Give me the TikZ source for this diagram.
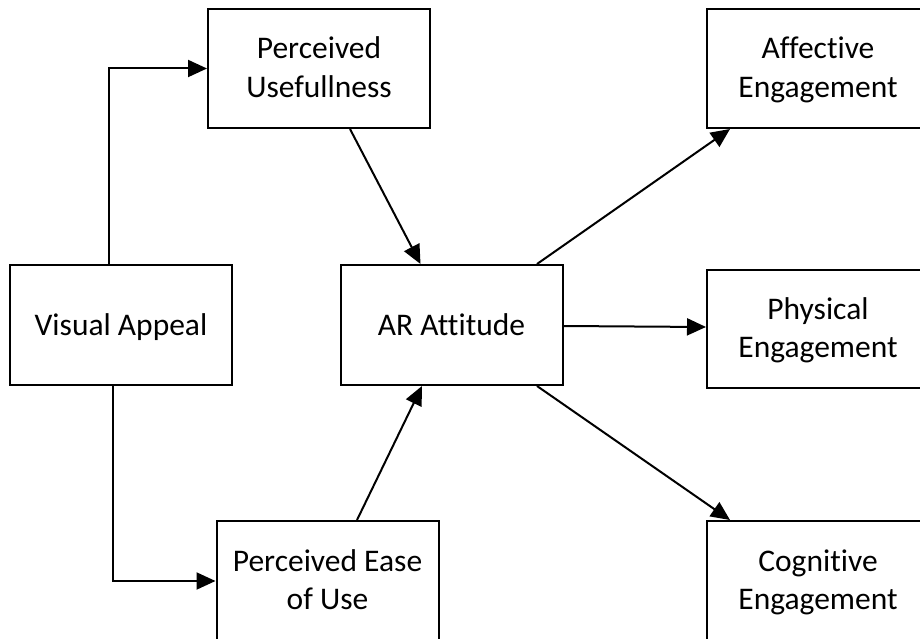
\documentclass[tikz,border=0pt]{standalone}
\usepackage{fontspec}
\setmainfont{Carlito}[Ligatures=NoCommon]
\usetikzlibrary{arrows.meta}
\begin{document}
\begin{tikzpicture}[x=1pt,y=-1pt,
  box/.style={draw, line width=2pt, minimum width=222pt, minimum height=120pt, inner sep=0pt},
  txt/.style={anchor=base, align=center, font=\fontsize{31.5}{38.4}\selectfont, inner sep=0pt},
  conn/.style={line width=2pt, -{Triangle[length=19pt,width=17pt]}}]
\useasboundingbox (0,0) rectangle (920,639);
\clip (0,0) rectangle (920,639);
\fill[white] (0,0) rectangle (920,639);
% boxes
\node[box] (va) at (121,325) {};
\node[box, minimum height=119pt] (pu) at (319,68.5) {};
\node[box] (ar) at (451.5,325) {};
\node[box] (peu) at (327.5,581) {};
\node[box, minimum height=119pt] (aff) at (818,68.5) {};
\node[box, minimum height=118pt] (phy) at (818,329) {};
\node[box] (cog) at (818,581) {};
% texts
\node[txt, yshift=-10pt] (vat) at (va.center) {Visual Appeal};
\node[txt, yshift=-28.9pt] (put) at (pu.center) {Perceived\\Usefullness};
\node[txt, yshift=-10pt] (art) at (ar.center) {AR Attitude};
\node[txt, yshift=-28.9pt] (peut) at (peu.center) {Perceived Ease\\of Use};
\node[txt, yshift=-28.9pt] (afft) at (aff.center) {Affective\\Engagement};
\node[txt, yshift=-28.9pt] (phyt) at (phy.center) {Physical\\Engagement};
\node[txt, yshift=-28.9pt] (cogt) at (cog.center) {Cognitive\\Engagement};
% connectors
\draw[conn] ([xshift=-12pt]va.north) |- (pu.west);
\draw[conn] ([xshift=-8pt]va.south) |- (peu.west);
\draw[conn] ([xshift=31pt]pu.south) -- ([xshift=-31pt]ar.north);
\draw[conn] ([xshift=29.5pt]peu.north) -- ([xshift=-29.5pt]ar.south);
\draw[conn] ([xshift=85.5pt]ar.north) -- ([xshift=-88pt]aff.south);
\draw[conn] ([yshift=-1pt]ar.east) -- ([yshift=2pt]phy.west);
\draw[conn] ([xshift=85.5pt]ar.south) -- ([xshift=-88pt]cog.north);
\end{tikzpicture}
\end{document}
